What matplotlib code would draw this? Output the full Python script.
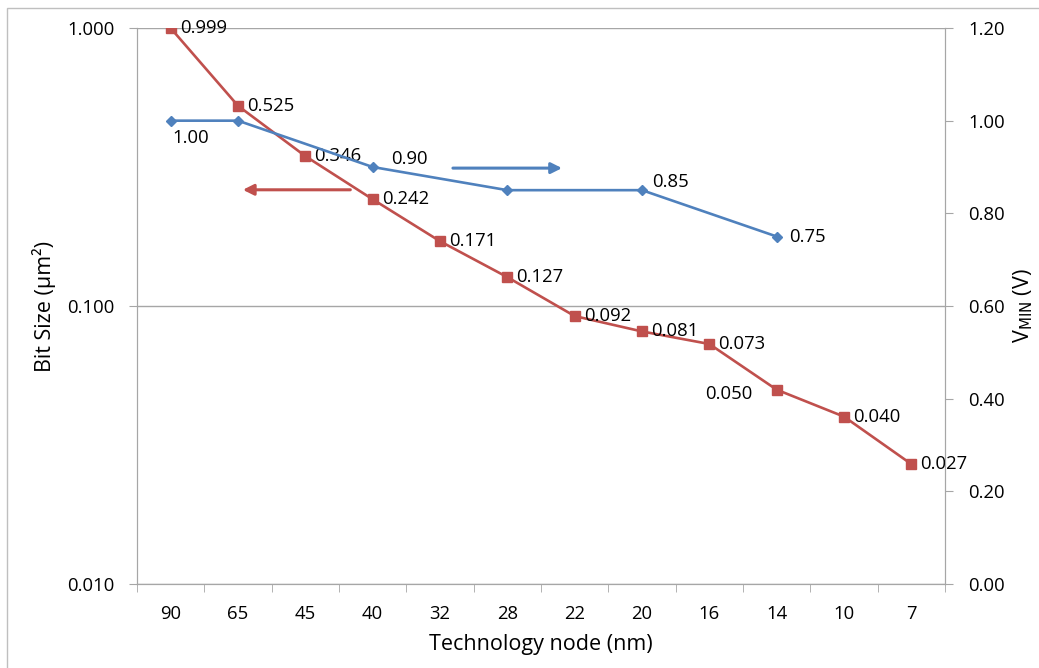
import matplotlib
matplotlib.use("Agg")
import matplotlib.pyplot as plt
from matplotlib.patches import Rectangle
from matplotlib.ticker import FixedLocator, NullLocator, FixedFormatter

plt.rcParams['font.family'] = ['Open Sans', 'DejaVu Sans']

# Technology nodes (categories)
nodes = ["90", "65", "45", "40", "32", "28", "22", "20", "16", "14", "10", "7"]

# Bit size (um^2) per node
bit_size = [0.999, 0.525, 0.346, 0.242, 0.171, 0.127, 0.092, 0.081, 0.073, 0.050, 0.040, 0.027]

# Minimum operating voltage (V) at selected nodes
vmin_nodes = ["90", "65", "40", "28", "20", "14"]
vmin = [1.00, 1.00, 0.90, 0.85, 0.85, 0.75]

RED = "#C0504D"
BLUE = "#4F81BD"
GRID = "#A6A6A6"
FS = 13.3
LFS = 15.5

fig = plt.figure(figsize=(10.39, 6.68), dpi=100)
ax = fig.add_axes([137/1039, 1-584/668, (945-137)/1039, (584-28)/668])
ax2 = ax.twinx()

xpos = list(range(len(nodes)))
vx = [nodes.index(n) for n in vmin_nodes]

# Bit size series on the log axis
ax.plot(xpos, bit_size, color=RED, lw=1.9, marker='s', ms=7, mec=RED, mfc=RED, zorder=3)
ax.set_yscale('log')
ax.set_ylim(0.01, 1.0)
ax.set_xlim(-0.5, len(nodes) - 0.5)
ax.yaxis.set_major_locator(FixedLocator([0.01, 0.1, 1.0]))
ax.yaxis.set_major_formatter(FixedFormatter(["0.010", "0.100", "1.000"]))
ax.yaxis.set_minor_locator(NullLocator())
ax.grid(axis='y', which='major', color=GRID, lw=1.0)
ax.set_axisbelow(True)

# Category ticks: labels at centres, marks on the boundaries
ax.set_xticks(xpos)
ax.set_xticklabels(nodes)
ax.set_xticks([i + 0.5 for i in range(-1, len(nodes))], minor=True)
ax.tick_params(axis='x', which='major', length=0, pad=15, labelsize=FS)
ax.tick_params(axis='x', which='minor', length=6, color=GRID, direction='out')
ax.tick_params(axis='y', which='major', length=6, color=GRID, direction='out', labelsize=FS, pad=10)

for side in ['top']:
    ax.spines[side].set_visible(False)
    ax2.spines[side].set_visible(False)
for sp in ['left', 'bottom', 'right']:
    ax.spines[sp].set_color(GRID)
    ax2.spines[sp].set_color(GRID)

ax.set_xlabel("Technology node (nm)", fontsize=LFS, labelpad=8)
ax.set_ylabel("Bit Size (µm²)", fontsize=LFS, labelpad=8)

# Vmin series on the secondary linear axis
ax2.plot(vx, vmin, color=BLUE, lw=1.9, marker='D', ms=5, mec=BLUE, mfc=BLUE, zorder=3)
ax2.set_ylim(0, 1.2)
ax2.set_yticks([0.0, 0.2, 0.4, 0.6, 0.8, 1.0, 1.2])
ax2.set_yticklabels([f"{v:.2f}" for v in [0.0, 0.2, 0.4, 0.6, 0.8, 1.0, 1.2]])
ax2.tick_params(axis='y', length=6, color=GRID, direction='out', labelsize=FS, pad=11)
ax2.set_ylabel(r"V$_{\mathrm{MIN}}$ (V)", fontsize=15.5, labelpad=4)

# Data labels for bit size
red_offsets = {i: (9, 0, 'left') for i in range(len(nodes))}
red_offsets[9] = (-24, -4, 'right')
for i, v in enumerate(bit_size):
    dx, dy, ha = red_offsets[i]
    ax.annotate(f"{v:.3f}", (i, v), xytext=(dx, dy), textcoords='offset pixels',
                ha=ha, va='center', fontsize=FS, zorder=4)

# Data labels for Vmin
blue_offsets = [(2, -17, 'left'), None, (18, 8, 'left'), None, (10, 8, 'left'), (12, 0, 'left')]
for k, (x, v) in enumerate(zip(vx, vmin)):
    if blue_offsets[k] is None:
        continue
    dx, dy, ha = blue_offsets[k]
    ax2.annotate(f"{v:.2f}", (x, v), xytext=(dx, dy), textcoords='offset pixels',
                 ha=ha, va='center', fontsize=FS, zorder=4)

# Arrows pointing each series to its axis
ax.annotate("", xy=(0.131, 0.709), xytext=(0.264, 0.709), xycoords='axes fraction',
            arrowprops=dict(arrowstyle='-|>', color=RED, lw=2.2, mutation_scale=16,
                            shrinkA=0, shrinkB=0))
ax.annotate("", xy=(0.526, 0.748), xytext=(0.391, 0.748), xycoords='axes fraction',
            arrowprops=dict(arrowstyle='-|>', color=BLUE, lw=2.2, mutation_scale=16,
                            shrinkA=0, shrinkB=0))

# Chart-area border
fig.patches.append(Rectangle((7/1039, -0.05), 1.2, 1 - 8/668 + 0.05, transform=fig.transFigure,
                             fill=False, edgecolor="#BFBFBF", lw=1.0, zorder=0))

fig.savefig("out.png", dpi=100)
